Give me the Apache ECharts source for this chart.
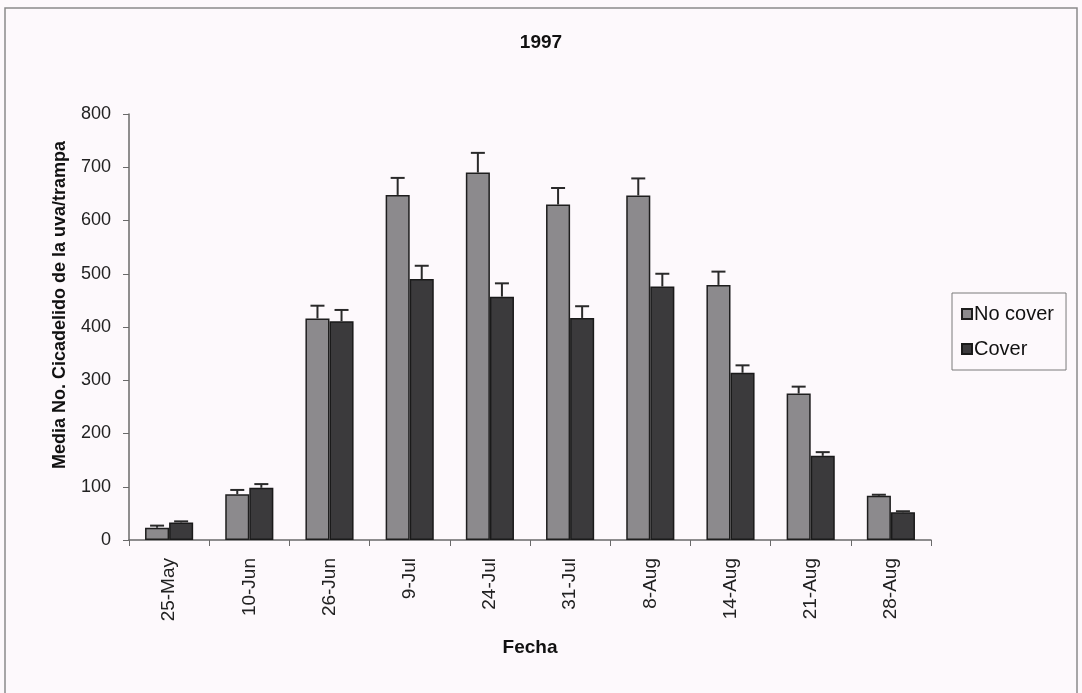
<!DOCTYPE html>
<html>
<head>
<meta charset="utf-8">
<script src="https://cdn.jsdelivr.net/npm/echarts@6/dist/echarts.min.js"></script>
<style>
  html, body { margin: 0; padding: 0; background: #fdf9fc; }
  #chart { width: 1082px; height: 693px; }
</style>
</head>
<body>
<div id="chart"></div>
<script>
// Sampling dates
const fechas = ['25-May', '10-Jun', '26-Jun', '9-Jul', '24-Jul', '31-Jul', '8-Aug', '14-Aug', '21-Aug', '28-Aug'];
// Mean leafhoppers per trap
const noCover = [23, 86, 416, 648, 690, 630, 647, 479, 275, 83];
const cover = [33, 98, 411, 490, 457, 417, 476, 314, 158, 52];
// Standard error (upper bar only)
const noCoverErr = [4, 8, 24, 32, 37, 31, 32, 25, 13, 2];
const coverErr = [2, 7, 21, 25, 25, 22, 24, 14, 7, 2];
// Y axis
const yTicks = { min: 0, max: 800, interval: 100 };

const FONT = '"Liberation Sans", Arial, sans-serif';
const BAR_GAP_CAT = 0.4;

// Upper error bar drawn over one bar of the pair (side = -1 left, +1 right)
function errorRenderer(side) {
  return function (params, api) {
    const idx = api.value(0);
    const mean = api.value(1);
    const err = api.value(2);
    const band = api.size([1, 0])[0];
    const barW = band * (1 - BAR_GAP_CAT) / 2;
    const top = api.coord([idx, mean + err]);
    const base = api.coord([idx, mean]);
    const x = top[0] + side * barW / 2;
    const cap = 7;
    const style = { stroke: '#2a2a2a', lineWidth: 2, fill: null };
    return {
      type: 'group',
      children: [
        { type: 'line', shape: { x1: x, y1: base[1], x2: x, y2: top[1] }, style: style },
        { type: 'line', shape: { x1: x - cap, y1: top[1], x2: x + cap, y2: top[1] }, style: style }
      ]
    };
  };
}

const chart = echarts.init(document.getElementById('chart'), null, { renderer: 'canvas' });

chart.setOption({
  backgroundColor: '#fdf9fc',
  animation: false,
  title: {
    text: '1997',
    left: 'center',
    top: 28,
    textStyle: { fontFamily: FONT, fontSize: 19, fontWeight: 'bold', color: '#111' }
  },
  graphic: [{
    type: 'rect',
    shape: { x: 5, y: 8, width: 1072, height: 700 },
    style: { fill: null, stroke: '#8a8a8a', lineWidth: 1.5 },
    silent: true,
    z: -1
  }],
  legend: {
    orient: 'vertical',
    left: 952,
    top: 293,
    padding: [11, 12, 11, 9],
    itemGap: 15,
    itemWidth: 10,
    itemHeight: 10,
    borderColor: '#7a7a7a',
    borderWidth: 1,
    icon: 'rect',
    data: ['No cover', 'Cover'],
    textStyle: { fontFamily: FONT, fontSize: 20, color: '#111', padding: [0, 0, 0, -3] }
  },
  grid: { left: 129, right: 151, top: 114, bottom: 153, containLabel: false },
  xAxis: {
    type: 'category',
    data: fechas,
    name: 'Fecha',
    nameLocation: 'middle',
    nameGap: 98,
    nameTextStyle: { fontFamily: FONT, fontSize: 19, fontWeight: 'bold', color: '#111' },
    axisLine: { lineStyle: { color: '#6a6a6a', width: 1.5 } },
    axisTick: { show: true, alignWithLabel: false, length: 6, lineStyle: { color: '#6a6a6a' } },
    axisLabel: { rotate: 90, margin: 18, fontFamily: FONT, fontSize: 19, color: '#222' }
  },
  yAxis: {
    type: 'value',
    min: yTicks.min,
    max: yTicks.max,
    interval: yTicks.interval,
    name: 'Media No. Cicadelido de la uva/trampa',
    nameLocation: 'middle',
    nameGap: 60,
    nameTextStyle: { fontFamily: FONT, fontSize: 18, fontWeight: 'bold', color: '#111', padding: [0, 0, 0, 44] },
    axisLine: { show: true, lineStyle: { color: '#6a6a6a', width: 1.5 } },
    axisTick: { show: true, length: 6, lineStyle: { color: '#6a6a6a' } },
    splitLine: { show: false },
    axisLabel: { margin: 18, fontFamily: FONT, fontSize: 18, color: '#222' }
  },
  series: [
    {
      name: 'No cover',
      type: 'bar',
      data: noCover,
      barGap: '0%',
      barCategoryGap: (BAR_GAP_CAT * 100) + '%',
      itemStyle: { color: '#8c8a8d', borderColor: '#1e1e1e', borderWidth: 1.5 }
    },
    {
      name: 'Cover',
      type: 'bar',
      data: cover,
      barGap: '0%',
      barCategoryGap: (BAR_GAP_CAT * 100) + '%',
      itemStyle: { color: '#3b3a3c', borderColor: '#1a1a1a', borderWidth: 1.5 }
    },
    {
      type: 'custom',
      name: 'errNoCover',
      renderItem: errorRenderer(-1),
      data: noCover.map((v, i) => [i, v, noCoverErr[i]]),
      encode: { x: 0, y: 1 },
      z: 3,
      silent: true
    },
    {
      type: 'custom',
      name: 'errCover',
      renderItem: errorRenderer(1),
      data: cover.map((v, i) => [i, v, coverErr[i]]),
      encode: { x: 0, y: 1 },
      z: 3,
      silent: true
    }
  ]
});
</script>
</body>
</html>
